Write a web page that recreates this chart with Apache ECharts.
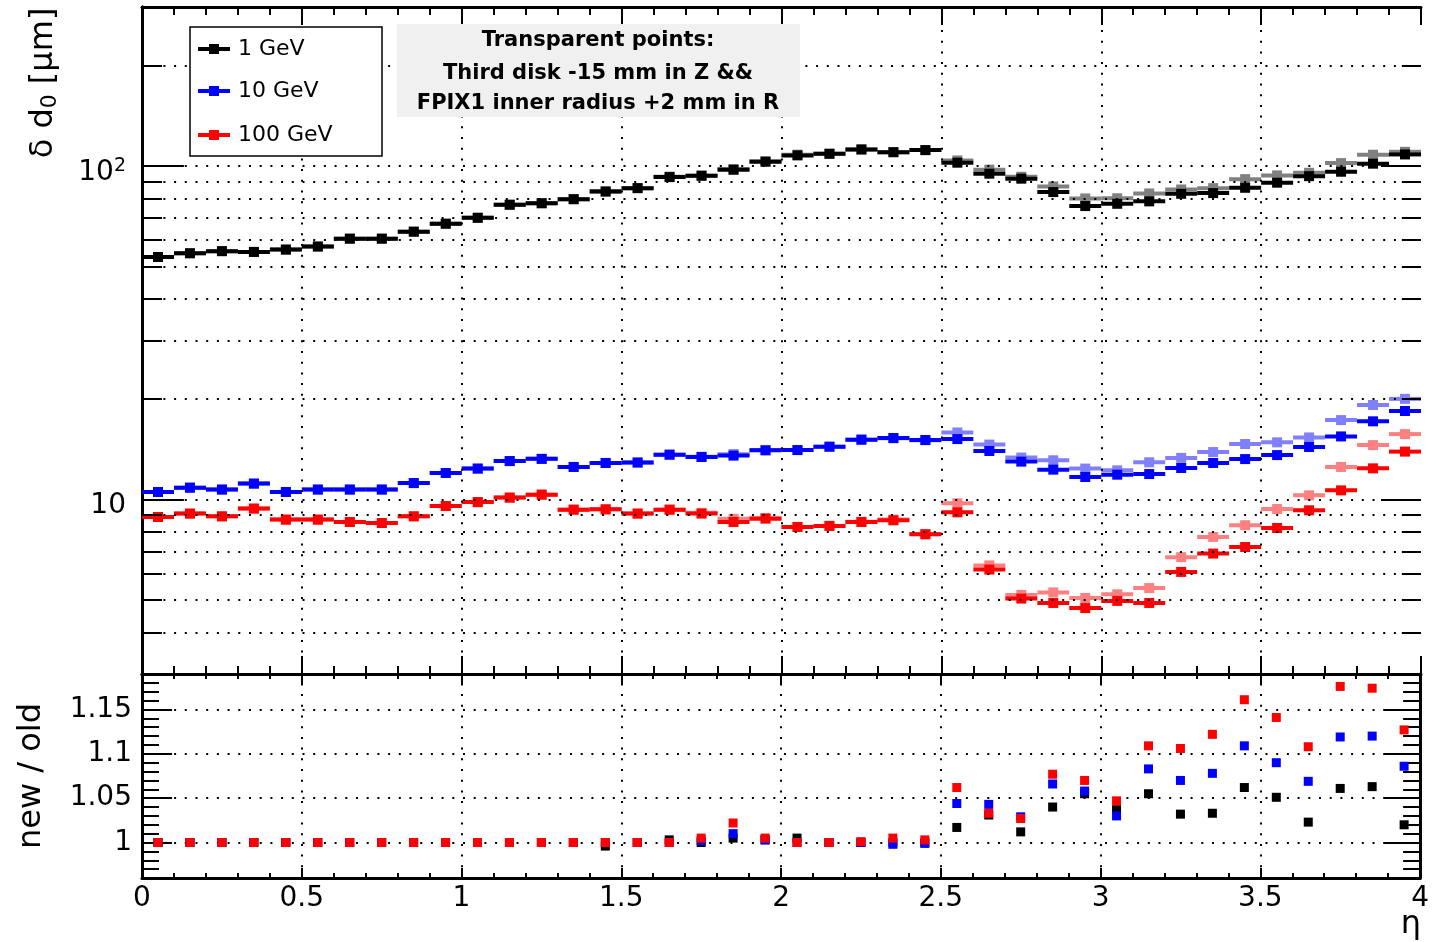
<!DOCTYPE html>
<html><head><meta charset="utf-8">
<script src="https://cdn.jsdelivr.net/npm/echarts@6/dist/echarts.min.js"></script>
<style>html,body{margin:0;padding:0;background:#fff}#c{width:1432px;height:942px}</style>
</head><body><div id="c"></div>
<script>
// ---- data ----
const etaCenters = [0.05,0.15,0.25,0.35,0.45,0.55,0.65,0.75,0.85,0.95,1.05,1.15,1.25,1.35,1.45,1.55,1.65,1.75,1.85,1.95,
  2.05,2.15,2.25,2.35,2.45,2.55,2.65,2.75,2.85,2.95,3.05,3.15,3.25,3.35,3.45,3.55,3.65,3.75,3.85,3.95];
const binHalfWidth = 0.05;

const old1 = [53.4,54.8,55.6,55.3,56.2,57.4,60.6,60.6,63.6,67.2,70.0,76.6,77.4,79.6,84.0,85.9,92.7,93.6,97.5,103.1,
  107.7,108.9,112.2,110.1,111.7,102.4,94.9,91.7,83.6,75.9,77.1,78.4,82.6,83.0,86.1,89.2,93.3,96.2,101.7,108.4];
const new1 = [53.4,54.8,55.6,55.3,56.2,57.4,60.6,60.6,63.6,67.2,70.0,76.6,77.4,79.6,83.7,85.9,93.0,93.6,98.0,103.4,
  108.2,108.9,112.2,110.1,111.7,104.0,97.6,92.9,86.9,80.0,80.1,82.8,85.1,85.9,91.4,93.8,95.5,102.1,108.2,110.4];

const old10 = [10.54,10.86,10.72,11.17,10.54,10.72,10.72,10.72,11.21,12.02,12.39,13.05,13.25,12.53,12.88,12.92,13.64,13.42,13.55,14.05,
  14.08,14.41,15.13,15.30,15.09,15.19,13.99,13.00,12.30,11.69,11.88,11.93,12.44,12.88,13.23,13.60,14.38,15.47,17.17,18.44];
const new10 = [10.54,10.86,10.72,11.17,10.54,10.72,10.72,10.72,11.21,12.02,12.39,13.05,13.25,12.53,12.88,12.92,13.64,13.45,13.69,14.09,
  14.08,14.41,15.13,15.27,15.07,15.90,14.62,13.37,13.12,12.39,12.24,12.94,13.34,13.89,14.68,14.85,15.36,17.32,19.22,20.05];

const old100 = [8.87,9.08,8.91,9.40,8.71,8.71,8.57,8.51,8.91,9.57,9.83,10.14,10.35,9.33,9.35,9.08,9.33,9.08,8.57,8.77,
  8.28,8.34,8.57,8.67,7.87,9.16,6.17,5.05,4.90,4.73,4.97,4.90,6.07,6.89,7.21,8.22,9.29,10.66,12.41,13.93];
const new100 = [8.87,9.08,8.91,9.40,8.71,8.71,8.57,8.51,8.91,9.57,9.83,10.14,10.35,9.33,9.35,9.08,9.33,9.13,8.76,8.81,
  8.28,8.34,8.58,8.71,7.89,9.75,6.35,5.18,5.27,5.07,5.20,5.43,6.72,7.73,8.38,9.37,10.30,12.53,14.57,15.72];

const ratio1 = [1,1,1,1,1,1,1,1,1,1,1,1,1,1,0.996,1,1.003,1,1.005,1.003,
  1.005,1,1,1,1,1.017,1.031,1.012,1.040,1.055,1.037,1.055,1.032,1.033,1.062,1.051,1.023,1.061,1.063,1.020];
const ratio10 = [1,1,1,1,1,1,1,1,1,1,1,1,1,1,1,1,1,1.002,1.010,1.003,
  1,1,1,0.998,0.999,1.044,1.043,1.029,1.066,1.058,1.030,1.083,1.070,1.078,1.109,1.090,1.069,1.119,1.120,1.086];
const ratio100 = [1,1,1,1,1,1,1,1,1,1,1,1,1,1,1,1,1,1.005,1.022,1.005,
  1,1,1.001,1.005,1.003,1.062,1.033,1.027,1.077,1.070,1.047,1.109,1.106,1.122,1.161,1.141,1.108,1.176,1.174,1.127];

const topGridValues = [4,5,6,7,8,9,10,20,30,40,50,60,70,80,90,100,200];
const topMajorTicks = [10,100];
const topMinorTicks = [4,5,6,7,8,9,20,30,40,50,60,70,80,90,200];
const ratioMajorTicks = [1,1.05,1.1,1.15];
const xGridValues = [0.5,1,1.5,2,2.5,3,3.5];
const legendLabels = ['1 GeV','10 GeV','100 GeV'];
const infoLines = ['Transparent points:','Third disk -15 mm in Z &&','FPIX1 inner radius +2 mm in R'];
const colors = ['#000000','#0000ff','#ff0000'];
const lightColors = ['#808080','#8080ff','#ff8080'];

// ---- chart ----
const FONT = 'DejaVu Sans';
const chart = echarts.init(document.getElementById('c'), null, {renderer:'canvas'});
const pairs = ys => etaCenters.map((x,i)=>[x, ys[i]]);
const dotted = {color:'#000', width:2, type:[2,8.7]};

function errSeries(name, ys, color, z){
  return {type:'custom', name, xAxisIndex:0, yAxisIndex:0, z, data:pairs(ys), encode:{x:0,y:1},
    renderItem(params, api){
      const x = api.value(0), y = api.value(1);
      const a = api.coord([x-binHalfWidth,y]), b = api.coord([x+binHalfWidth,y]), c = api.coord([x,y]);
      return {type:'group', children:[
        {type:'line', shape:{x1:a[0],y1:a[1],x2:b[0],y2:b[1]}, style:{stroke:color, lineWidth:4}},
        {type:'rect', shape:{x:c[0]-5,y:c[1]-5,width:10,height:10}, style:{fill:color}}
      ]};
    }};
}
function ratioSeries(name, ys, color, z){
  return {type:'scatter', name, xAxisIndex:2, yAxisIndex:2, z, data:pairs(ys),
    symbol:'rect', symbolSize:9, itemStyle:{color, opacity:1}};
}
function tickSeg(xa, xb, v){ return [{coord:[xa,v]},{coord:[xb,v]}]; }

const xAxisBase = (grid, pos, major, minor, labels) => ({
  type:'value', gridIndex:grid, position:pos, min:0, max:4, interval:0.5,
  axisLine:{show:true, onZero:false, lineStyle:{color:'#000', width:3}},
  axisTick:{show:true, inside:true, length:major, lineStyle:{color:'#000', width:2}},
  minorTick:{show:true, splitNumber:5, length:minor, lineStyle:{color:'#000', width:2}},
  splitLine:{show:false},
  axisLabel: labels ? {show:true, fontFamily:FONT, fontSize:28, color:'#000', margin:7} : {show:false}
});

const option = {
  animation:false,
  backgroundColor:'#fff',
  grid:[
    {left:142, right:11, top:7, height:667},
    {left:142, right:11, top:674, height:204}
  ],
  xAxis:[
    xAxisBase(0,'bottom',18,8,false),
    xAxisBase(0,'top',18,8,false),
    xAxisBase(1,'bottom',10,5,true),
    xAxisBase(1,'top',10,5,false)
  ],
  yAxis:[
    {type:'log', logBase:10, gridIndex:0, position:'left', min:3, max:300,
     axisLine:{show:true, lineStyle:{color:'#000', width:3}}, axisTick:{show:false}, splitLine:{show:false},
     axisLabel:{show:true, showMinLabel:false, showMaxLabel:false, fontFamily:FONT, fontSize:28, color:'#000', margin:16,
       padding:[13,0,0,0],
       formatter: v => { const r = Math.round(v); return r===10 ? '10' : (r===100 ? '10{sup|2}' : ''); },
       rich:{sup:{fontFamily:FONT, fontSize:19, color:'#000', verticalAlign:'top', padding:[0,0,14,0]}}}},
    {type:'log', logBase:10, gridIndex:0, position:'right', min:3, max:300,
     axisLine:{show:true, lineStyle:{color:'#000', width:3}}, axisTick:{show:false}, splitLine:{show:false}, axisLabel:{show:false}},
    {type:'value', gridIndex:1, position:'left', min:0.96, max:1.19, interval:0.01,
     axisLine:{show:true, onZero:false, lineStyle:{color:'#000', width:3}},
     axisTick:{show:true, inside:true, length:17, lineStyle:{color:'#000', width:2}}, splitLine:{show:false},
     axisLabel:{show:true, fontFamily:FONT, fontSize:28, color:'#000', margin:10, showMinLabel:false, showMaxLabel:false,
       padding:[17,0,0,0],
       formatter: v => { const k = Math.round(v*100); return k % 5 === 0 ? String(k/100) : ''; }}},
    {type:'value', gridIndex:1, position:'right', min:0.96, max:1.19, interval:0.01,
     axisLine:{show:true, onZero:false, lineStyle:{color:'#000', width:3}},
     axisTick:{show:true, inside:true, length:17, lineStyle:{color:'#000', width:2}}, splitLine:{show:false}, axisLabel:{show:false}}
  ],
  series:[
    {type:'scatter', xAxisIndex:0, yAxisIndex:0, data:[], z:1, silent:true,
     markLine:{silent:true, symbol:'none', label:{show:false}, lineStyle:dotted, animation:false,
       data:[...xGridValues.map(v=>({xAxis:v})), ...topGridValues.map(v=>({yAxis:v}))]}},
    {type:'scatter', xAxisIndex:0, yAxisIndex:0, data:[], z:1, silent:true,
     markLine:{silent:true, symbol:'none', label:{show:false}, lineStyle:{color:'#000', width:2, type:'solid'}, animation:false,
       data:[...topMajorTicks.map(v=>tickSeg(0,0.131,v)), ...topMinorTicks.map(v=>tickSeg(0,0.0625,v)),
             ...topMajorTicks.map(v=>tickSeg(3.875,4,v)), ...topMinorTicks.map(v=>tickSeg(3.94,4,v))]}},
    {type:'scatter', xAxisIndex:2, yAxisIndex:2, data:[], z:1, silent:true,
     markLine:{silent:true, symbol:'none', label:{show:false}, lineStyle:dotted, animation:false,
       data:[...xGridValues.map(v=>({xAxis:v})), ...ratioMajorTicks.map(v=>({yAxis:v}))]}},
    {type:'scatter', xAxisIndex:2, yAxisIndex:2, data:[], z:1, silent:true,
     markLine:{silent:true, symbol:'none', label:{show:false}, lineStyle:{color:'#000', width:2, type:'solid'}, animation:false,
       data:[...ratioMajorTicks.map(v=>tickSeg(0,0.094,v)), ...ratioMajorTicks.map(v=>tickSeg(3.89,4,v))]}},
    errSeries('1 GeV new', new1, lightColors[0], 3),
    errSeries('10 GeV new', new10, lightColors[1], 3),
    errSeries('100 GeV new', new100, lightColors[2], 3),
    errSeries('1 GeV', old1, colors[0], 4),
    errSeries('10 GeV', old10, colors[1], 4),
    errSeries('100 GeV', old100, colors[2], 4),
    ratioSeries('1 GeV ratio', ratio1, colors[0], 4),
    ratioSeries('10 GeV ratio', ratio10, colors[1], 5),
    ratioSeries('100 GeV ratio', ratio100, colors[2], 6)
  ],
  graphic:[
    {type:'rect', z:100, shape:{x:190,y:27,width:192,height:129}, style:{fill:'#fff', stroke:'#000', lineWidth:1.5}},
    ...legendLabels.flatMap((t,i)=>{
      const y = [49,91,135][i];
      return [
        {type:'line', z:101, shape:{x1:198,y1:y,x2:230,y2:y}, style:{stroke:colors[i], lineWidth:4}},
        {type:'rect', z:101, shape:{x:209,y:y-5,width:10,height:10}, style:{fill:colors[i]}},
        {type:'text', z:101, x:238, y:y, style:{text:t, fontFamily:FONT, fontSize:22, fill:'#000', align:'left', verticalAlign:'middle'}}
      ];
    }),
    {type:'rect', z:100, shape:{x:397,y:24,width:403,height:93}, style:{fill:'#f0f0f0'}},
    ...infoLines.map((t,i)=>({type:'text', z:101, x:598, y:[41,74,104][i],
      style:{text:t, fontFamily:FONT, fontWeight:'bold', fontSize:21, fill:'#000', align:'center', verticalAlign:'middle'}})),
    {type:'text', z:100, x:44, y:83, rotation:Math.PI/2,
     style:{text:'\u03b4 d{sub|0} [\u03bcm]', fontFamily:FONT, fontSize:32, fill:'#000', align:'center', verticalAlign:'middle',
       rich:{sub:{fontFamily:FONT, fontSize:22, fill:'#000', padding:[12,0,0,0]}}}},
    {type:'text', z:100, x:32, y:776, rotation:Math.PI/2,
     style:{text:'new / old', fontFamily:FONT, fontSize:32, fill:'#000', align:'center', verticalAlign:'middle'}},
    {type:'text', z:100, x:1411, y:925,
     style:{text:'\u03b7', fontFamily:FONT, fontSize:32, fill:'#000', align:'center', verticalAlign:'middle'}}
  ]
};
chart.setOption(option);
</script></body></html>
